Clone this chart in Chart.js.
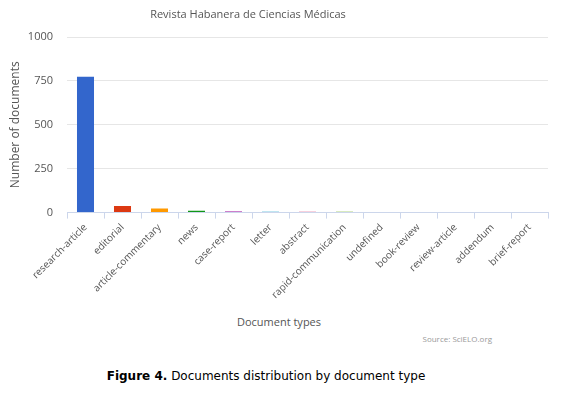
<!DOCTYPE html>
<html>
<head>
<meta charset="utf-8">
<script src="https://cdn.jsdelivr.net/npm/chart.js@4/dist/chart.umd.min.js"></script>
<style>
  body { margin: 0; background: #fff; }
  #wrap { position: relative; width: 574px; height: 395px; }
  #box { position: absolute; left: 0; top: 0; width: 574px; height: 304px; }
  .lbl { position: absolute; font-family: "Open Sans", sans-serif; color: #555; white-space: nowrap; }
  #title { left: 0; width: 496px; top: 6px; text-align: center; font-size: 11px; }
  #xtitle { left: 0; width: 558px; top: 314px; text-align: center; font-size: 11px; }
  #source { right: 82px; top: 333px; font-size: 8px; color: #999; }
  #caption { position: absolute; left: 0; width: 532px; top: 369px; text-align: center; font: 12px Verdana, "DejaVu Sans", sans-serif; color: #000; }
</style>
</head>
<body>
<div id="wrap">
  <div id="box"><canvas id="docChart"></canvas></div>
  <div id="title" class="lbl">Revista Habanera de Ciencias Médicas</div>
  <div id="xtitle" class="lbl">Document types</div>
  <div id="source" class="lbl">Source: SciELO.org</div>
  <div id="caption"><b>Figure 4.</b> Documents distribution by document type</div>
</div>
<script>
const docTypes = ['research-article', 'editorial', 'article-commentary', 'news', 'case-report', 'letter',
  'abstract', 'rapid-communication', 'undefined', 'book-review', 'review-article', 'addendum', 'brief-report'];
const docCounts = [773, 37, 23, 11, 6, 5, 5, 5, 0, 0, 0, 0, 0];
const yTicks = [0, 250, 500, 750, 1000];

const palette = ['#3366cc', '#dc3912', '#ff9900', '#109618', '#990099', '#0099c6',
  '#dd4477', '#66aa00', '#b82e2e', '#316395', '#994499', '#22aa99', '#aaaa11'];

const ctx = document.getElementById('docChart').getContext('2d');
new Chart(ctx, {
  type: 'bar',
  data: {
    labels: docTypes,
    datasets: [{
      data: docCounts,
      backgroundColor: palette,
      barPercentage: 0.46,
      categoryPercentage: 1.0
    }]
  },
  options: {
    responsive: true,
    maintainAspectRatio: false,
    animation: false,
    layout: { padding: { left: 2, right: 26, top: 37, bottom: 0 } },
    plugins: {
      legend: { display: false },
      tooltip: { enabled: false }
    },
    scales: {
      x: {
        // rotated labels may hang past the left edge of the plot, like the original
        afterFit: axis => { axis.paddingLeft = 0; axis.paddingRight = 0; },
        grid: { display: true, drawOnChartArea: false, drawTicks: true, tickLength: 6, color: '#ccd6eb' },
        border: { color: '#ccd6eb' },
        ticks: {
          color: '#555', maxRotation: 45, minRotation: 45, autoSkip: false,
          font: { family: 'Open Sans', size: 10 }
        }
      },
      y: {
        min: 0, max: 1000,
        afterBuildTicks: axis => { axis.ticks = yTicks.map(v => ({ value: v })); },
        afterFit: axis => { axis.width = 65; },
        grid: { color: '#e6e6e6', drawTicks: false },
        border: { display: false },
        ticks: {
          color: '#555', padding: 14, font: { family: 'Open Sans', size: 11 },
          callback: v => String(v)
        },
        title: {
          display: true, text: 'Number of documents', color: '#555',
          font: { family: 'Open Sans', size: 12 }, padding: { top: 6, bottom: 6 }
        }
      }
    }
  }
});
</script>
</body>
</html>
